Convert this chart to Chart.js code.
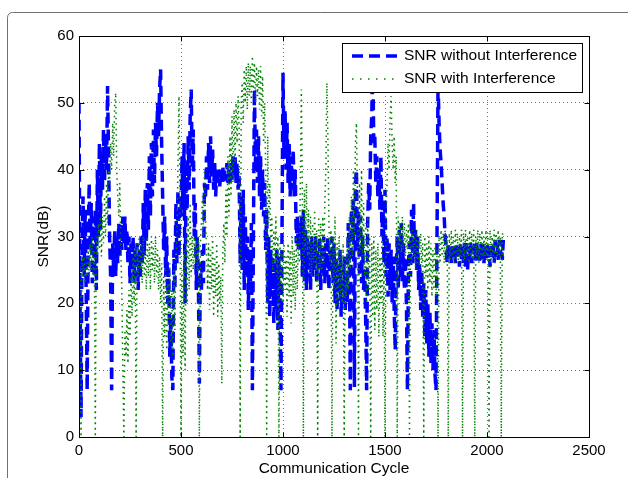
<!DOCTYPE html>
<html lang="en">
<head>
  <meta charset="UTF-8">
  <title>SNR vs Communication Cycle</title>
  <script src="https://cdn.jsdelivr.net/npm/chart.js"></script>
  <style>
    html, body {
      margin: 0;
      padding: 0;
      background: #fff;
    }
    canvas {
      display: block;
    }
  </style>
</head>
<body>
  <canvas id="snrChart" width="628" height="478"></canvas>

  <script>
    // one sample every 5 communication cycles, 0 .. 2080
    const cycleStep = 5;

    const seriesNames = ['SNR without Interference', 'SNR with Interference'];

    // 20 samples per row = 100 cycles per row
    const blueSNR = [
      50, 20, 3, 30, 36, 24, 34, 22, 7, 30, 38, 28, 35, 23, 33, 24, 34, 22, 40, 30,
      44, 31, 43, 37, 46, 38, 45, 40, 52.5, 42, 30, 24, 7, 29, 25, 31, 24, 30, 26, 32,
      27, 32, 28, 33, 29, 33, 28, 31, 26, 30, 23, 29, 25, 30, 23, 28, 25, 29, 22, 28,
      24, 30, 26, 35, 27, 37, 29, 38, 31, 42, 33, 44, 36, 46, 38, 47, 42, 50, 45, 52,
      55, 44, 36, 28, 33, 24, 30, 20, 25, 12, 18, 9, 7, 28, 22, 35, 26, 37, 27, 36,
      33, 42, 34, 44, 20, 40, 34, 45, 37, 48, 52, 40, 46, 30, 35, 22, 30, 24, 8, 26,
      22, 28, 23, 38, 36, 42, 37, 44, 38, 45, 39, 43, 37, 41, 36, 40, 38, 40, 37.5, 40,
      38, 40.5, 38, 40, 38.5, 41, 38, 40, 38, 41, 38.5, 42, 39, 42, 38, 41, 37, 39, 26, 36,
      25, 37, 22, 33, 24, 30, 19, 28, 22, 32, 7, 30, 52, 41, 46, 38, 45, 36, 42, 34,
      40, 33, 38, 28, 34, 20, 30, 18, 28, 21, 27, 17, 26, 19, 28, 16, 27, 22, 7, 30,
      54.5, 42, 49, 40, 47, 38, 44, 36, 42, 37, 43, 36, 40, 29, 33, 28, 32, 28, 33, 24,
      34, 23, 31, 22, 30, 25, 29, 22, 30, 24, 29, 25, 30, 23, 28, 25, 30, 22, 28, 24,
      30, 23, 29, 24, 30, 22, 28, 25, 30, 23, 29, 20, 27, 19, 26, 22, 28, 18, 25, 20,
      27, 19, 24, 20, 32, 28, 7, 34, 30, 36, 7.5, 38, 40, 28, 34, 24, 33, 23, 30, 22,
      25, 18, 7, 32, 38, 34, 45, 48, 56, 44, 45, 38, 42, 36, 40, 34, 42, 30, 35, 26,
      37, 24, 30, 21, 29, 22, 28, 20, 27, 19, 13, 25, 30, 22, 31, 24, 32, 23, 29, 22,
      27, 20, 7, 26, 29, 24, 34, 26, 35, 27, 31, 25, 30, 22, 26, 19, 25, 18, 23, 15,
      22, 14, 20, 12, 19, 11, 17, 10, 16, 9.5, 7, 30, 53, 47, 43, 41, 38, 35, 33, 30,
      28, 26, 29, 26.5, 28.5, 26, 29, 26.5, 28.5, 26, 29, 27, 28.5, 25.5, 29, 26.5, 28.5, 26, 29, 25.5,
      29, 25, 28.5, 26.5, 29, 26, 28.5, 27, 29, 26, 29, 26.5, 28.5, 26, 29, 26.5, 29, 26, 28.5, 26.5,
      29, 26.5, 28, 25.5, 29, 26.5, 29, 26, 29.5, 27, 29, 26.5, 29.5, 27, 29.5, 26.5, 29.5
    ];

    const greenSNR = [
      26, 24, 0, 27, 24, 27, 23, 26, 24, 28, 24, 29, 25, 30, 24, 28, 0, 30, 27, 32,
      28, 33, 27, 33, 29, 36, 30, 38, 32, 40, 38, 44, 40, 47, 42, 50, 51.5, 40, 36, 33,
      38, 28, 22, 10, 0, 16, 12, 19, 11, 22, 15, 24, 18, 27, 20, 28, 0, 29, 24, 30,
      25, 29, 23, 30, 24, 28, 22, 30, 24, 29, 22, 30, 25, 29, 23, 30, 24, 28, 22, 27,
      20, 26, 0, 24, 15, 25, 13, 23, 17, 26, 14, 22, 12, 25, 16, 27, 30, 40, 51, 35,
      0, 25, 12, 28, 10, 30, 20, 33, 22, 35, 24, 30, 25, 30, 26, 29, 25, 30, 0, 29,
      32, 36, 30, 40, 33, 28, 22, 29, 19, 28, 22, 30, 18, 27, 21, 29, 18, 26, 20, 24,
      8, 28, 32, 26, 37, 30, 42, 33, 45, 36, 48, 38, 49, 41, 50, 44, 51, 46, 0, 50,
      53, 47, 55, 50, 55.5, 49, 56, 51, 55.5, 50, 57, 52, 56, 50, 55.5, 51, 55, 49, 55.5, 48,
      54, 44, 50, 40, 0, 45, 32, 38, 28, 33, 25, 31, 26, 33, 24, 30, 0, 29, 22, 28,
      20, 29, 22, 27, 18, 29, 21, 28, 17, 30, 21, 28, 19, 30, 22, 29, 26, 38, 52, 36,
      0, 37, 28, 38, 27, 34, 25, 33, 24, 32, 26, 34, 25, 31, 0, 33, 25, 32, 24, 33,
      26, 35, 40, 53, 45, 32, 26, 31, 0, 30, 22, 33, 14, 29, 20, 30, 21, 28, 20, 29,
      0, 27, 21, 30, 22, 33, 25, 36, 27, 40, 30, 44, 47, 36, 0, 38, 28, 40, 27, 35,
      24, 32, 20, 33, 22, 30, 0, 29, 18, 30, 16, 28, 19, 29, 15, 27, 20, 30, 15, 26,
      0, 32, 38, 44, 40, 48, 51, 44, 40, 45, 38, 42, 0, 33, 28, 32, 27, 33, 28, 32,
      27, 31, 28, 32, 0, 30, 26, 31, 27, 30.5, 25, 31, 26, 30, 25, 30.5, 26, 29, 0, 30,
      24, 29, 22, 30, 23, 29, 21, 28, 22, 29, 21, 28, 0, 30, 26, 31, 27, 30.5, 26, 31,
      27, 30, 0, 30.5, 26.5, 31, 27, 30, 26, 31, 27, 30.5, 26, 30, 27, 31, 0, 30.5, 26.5, 31,
      27, 30, 26, 31, 27, 30.5, 26.5, 31, 0, 30, 27, 31, 26, 30.5, 27, 31, 26.5, 30, 27, 31,
      26.5, 30.5, 0, 31, 26.5, 30, 27, 31, 26, 30.5, 27, 31, 26.5, 30, 0, 30.5, 30
    ];

    const xTicks = [0, 500, 1000, 1500, 2000, 2500];
    const yTicks = [0, 10, 20, 30, 40, 50, 60];

    const FONT = '"Liberation Sans", Arial, Helvetica, sans-serif';
    const BLUE = '#0000ff';
    const GREEN = '#008000';

    const toPoints = arr => arr.map((v, i) => ({ x: i * cycleStep, y: v }));

    // matlab style: outer frame, box, inward ticks and a boxed legend
    const matlabLook = {
      id: 'matlabLook',
      beforeDraw(chart) {
        const ctx = chart.ctx;
        ctx.save();
        ctx.fillStyle = '#fff';
        ctx.fillRect(0, 0, chart.width, chart.height);
        ctx.strokeStyle = '#707070';
        ctx.lineWidth = 1;
        ctx.beginPath();
        ctx.roundRect(7.5, 12.5, 720, 600, 5);
        ctx.stroke();
        ctx.restore();
      },
      afterDraw(chart) {
        const ctx = chart.ctx;
        const { left, right, top, bottom } = chart.chartArea;
        const xs = chart.scales.x, ys = chart.scales.y;
        const L = Math.round(left) + 0.5, R = Math.round(right) + 0.5;
        const T = Math.round(top) + 0.5, B = Math.round(bottom) + 0.5;
        ctx.save();
        ctx.strokeStyle = '#000';
        ctx.lineWidth = 1;
        ctx.setLineDash([]);
        ctx.strokeRect(L, T, R - L, B - T);
        ctx.beginPath();
        xTicks.forEach(v => {
          const p = Math.round(xs.getPixelForValue(v)) + 0.5;
          ctx.moveTo(p, B); ctx.lineTo(p, B - 5);
          ctx.moveTo(p, T); ctx.lineTo(p, T + 5);
        });
        yTicks.forEach(v => {
          const p = Math.round(ys.getPixelForValue(v)) + 0.5;
          ctx.moveTo(L, p); ctx.lineTo(L + 5, p);
          ctx.moveTo(R, p); ctx.lineTo(R - 5, p);
        });
        ctx.stroke();

        // legend
        const lx = 342.5, ly = 43.5, lw = 240, lh = 49;
        ctx.fillStyle = '#fff';
        ctx.fillRect(lx, ly, lw, lh);
        ctx.strokeRect(lx, ly, lw, lh);
        const rows = [
          { y: 56, color: BLUE, width: 3.5, dash: [11, 6] },
          { y: 79, color: GREEN, width: 1.5, dash: [1.5, 6.5] }
        ];
        rows.forEach((r, i) => {
          ctx.strokeStyle = r.color;
          ctx.lineWidth = r.width;
          ctx.setLineDash(r.dash);
          ctx.beginPath();
          ctx.moveTo(352, r.y);
          ctx.lineTo(398, r.y);
          ctx.stroke();
          ctx.setLineDash([]);
          ctx.fillStyle = '#000';
          ctx.font = '15.5px ' + FONT;
          ctx.textBaseline = 'middle';
          ctx.textAlign = 'left';
          ctx.fillText(seriesNames[i], 404, r.y);
        });
        ctx.restore();
      }
    };

    const ctx = document.getElementById('snrChart').getContext('2d');
    new Chart(ctx, {
      type: 'line',
      data: {
        datasets: [
          {
            label: seriesNames[0],
            data: toPoints(blueSNR),
            borderColor: BLUE,
            borderWidth: 3.5,
            borderDash: [11, 6],
            pointRadius: 0,
            tension: 0,
            fill: false,
            order: 2
          },
          {
            label: seriesNames[1],
            data: toPoints(greenSNR),
            borderColor: GREEN,
            borderWidth: 1.5,
            borderDash: [1.5, 4],
            pointRadius: 0,
            tension: 0,
            fill: false,
            order: 1
          }
        ]
      },
      options: {
        responsive: false,
        animation: false,
        events: [],
        layout: { padding: { left: 0, top: 36, right: 39, bottom: 0 } },
        plugins: {
          legend: { display: false },
          tooltip: { enabled: false }
        },
        scales: {
          x: {
            type: 'linear',
            min: 0,
            max: 2500,
            afterBuildTicks: s => { s.ticks = xTicks.map(v => ({ value: v })); },
            afterFit: s => { s.height = 41; },
            ticks: {
              color: '#000',
              padding: 5,
              maxRotation: 0,
              font: { family: FONT, size: 15 },
              callback: v => String(v)
            },
            grid: { color: 'rgba(0,0,0,0.55)', drawTicks: false },
            border: { display: false, dash: [1, 3] },
            title: {
              display: true,
              text: 'Communication Cycle',
              color: '#000',
              font: { family: FONT, size: 15.5 },
              padding: { top: 0, bottom: 0 }
            }
          },
          y: {
            min: 0,
            max: 60,
            afterBuildTicks: s => { s.ticks = yTicks.map(v => ({ value: v })); },
            afterFit: s => { s.width = 79; },
            ticks: {
              color: '#000',
              padding: 5,
              font: { family: FONT, size: 15 },
              callback: v => String(v)
            },
            grid: { color: 'rgba(0,0,0,0.55)', drawTicks: false },
            border: { display: false, dash: [1, 3] },
            title: {
              display: true,
              text: 'SNR(dB)',
              color: '#000',
              font: { family: FONT, size: 15.5 },
              padding: { top: 34, bottom: 0 }
            }
          }
        }
      },
      plugins: [matlabLook]
    });
  </script>
</body>
</html>
